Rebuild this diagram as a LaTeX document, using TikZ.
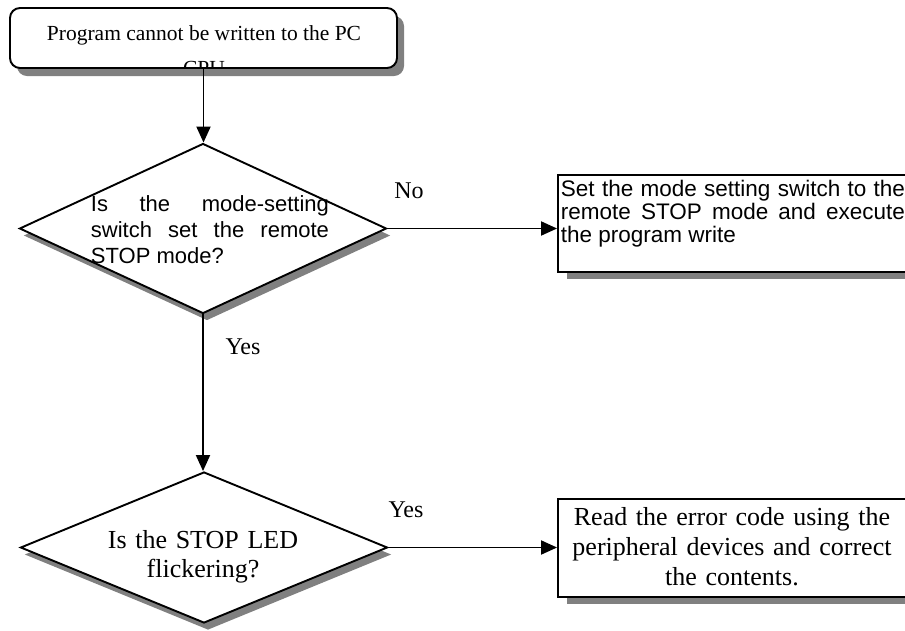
\documentclass[tikz,border=0pt]{standalone}
\usepackage{fontspec}
\setmainfont{Liberation Serif}
\newfontfamily\arialf{Liberation Sans}
\usetikzlibrary{shapes.geometric,shadows,arrows.meta}
\begin{document}
\begin{tikzpicture}[x=1pt,y=-1pt,line width=1.9pt,
  shad/.style 2 args={drop shadow={shadow xshift=#1,shadow yshift=#2,fill=black!50,opacity=1}},
  startbox/.style={draw,fill=white,rounded corners=10pt,minimum width=387pt,minimum height=60pt,inner sep=0pt,shad={7pt}{-8pt}},
  decision/.style={diamond,draw,fill=white,minimum width=367pt,inner sep=0pt,shad={4pt}{-7pt}},
  actbox/.style={draw,fill=white,minimum width=357pt,inner sep=0pt,shad={9pt}{-7pt}},
  conn/.style={-{Triangle[length=16pt,width=14pt]}},
  lbl/.style={font=\fontsize{24}{26}\selectfont,inner sep=0pt,anchor=base}]
\useasboundingbox (0,0) rectangle (905,630);
% shapes
\node[startbox] (start) at (203.5,38) {};
\node[decision,minimum height=170pt] (d1) at (203,228.5) {};
\node[decision,minimum height=151pt] (d2) at (204,547.5) {};
\node[actbox,minimum height=97pt] (b1) at (736.5,223.5) {};
\node[actbox,minimum height=98pt] (b2) at (736.5,548) {};
% texts
\node[inner sep=0pt,anchor=base,font=\fontsize{21.5}{24}\selectfont] (t0) at (204,40) {Program cannot be written to the PC};
\begin{scope}
\clip (10,8) rectangle (397,66);
\node[inner sep=0pt,anchor=base,font=\fontsize{21.5}{24}\selectfont] (t0b) at (204,75) {CPU};
\end{scope}
\node[anchor=base west,text width=238pt,align=justify,inner sep=0pt,font=\arialf\fontsize{22}{26}\selectfont] (t1) at (90,211)
  {Is the mode-setting\linebreak switch set the remote\linebreak STOP mode?};
\node[anchor=base west,text width=344pt,align=justify,inner sep=0pt,font=\arialf\fontsize{22.5}{23}\selectfont] (t2) at (560,196)
  {Set the mode setting switch to the\linebreak remote STOP mode and execute\linebreak the program write};
\node[anchor=base,text width=250pt,align=center,inner sep=0pt,font=\fontsize{26}{29}\selectfont] (t3) at (203,548)
  {Is the STOP LED\\flickering?};
\node[anchor=base,text width=340pt,align=center,inner sep=0pt,font=\fontsize{26}{30}\selectfont] (t4) at (732,525)
  {Read the error code using the\\peripheral devices and correct\\the contents.};
% labels
\node[lbl] (no1) at (409,198) {No};
\node[lbl] (yes1) at (243,354) {Yes};
\node[lbl] (yes2) at (406,517) {Yes};
% connectors
\draw[conn] (start.south) -- (start.south |- d1.north);
\draw[conn] (d1.east) -- (d1.east -| b1.west);
\draw[conn] (d1.south) -- (d1.south |- d2.north);
\draw[conn] (d2.east) -- (d2.east -| b2.west);
\end{tikzpicture}
\end{document}
